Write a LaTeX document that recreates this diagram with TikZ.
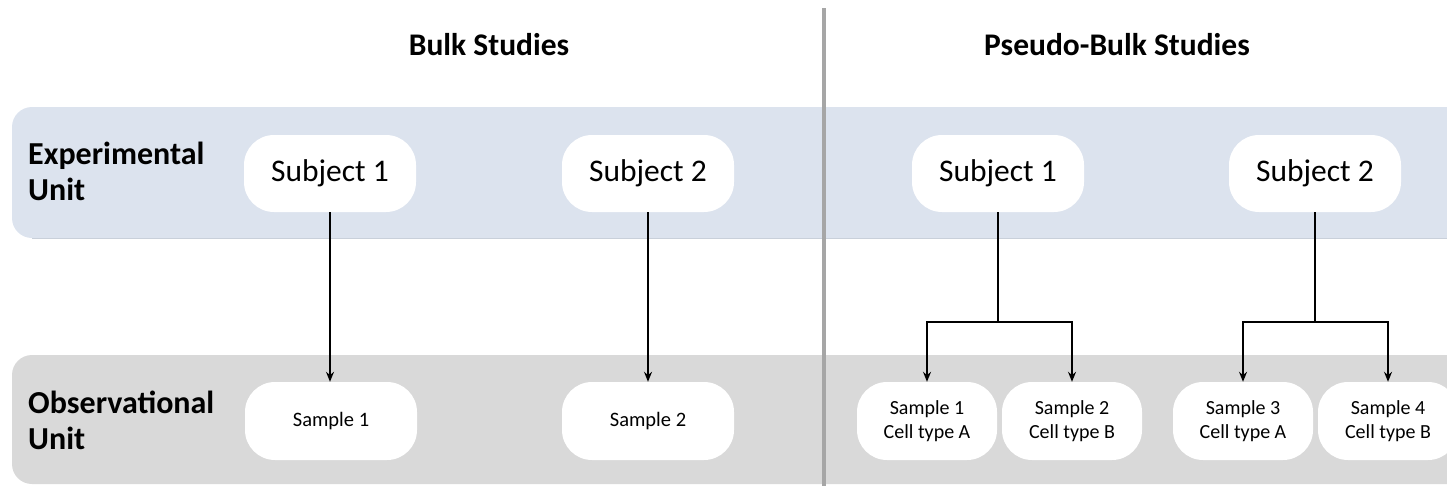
\documentclass[tikz,border=0pt]{standalone}
\usepackage{fontspec}
\setmainfont{Carlito}
\usetikzlibrary{arrows.meta}
\definecolor{bandblue}{HTML}{DCE3EE}
\definecolor{bandedge}{HTML}{C9D0DA}
\definecolor{bandgrey}{HTML}{D9D9D9}
\definecolor{divgrey}{HTML}{A6A6A6}
\tikzset{
  subj/.style={fill=white, rounded corners=30pt, minimum width=172pt, minimum height=77pt, inner sep=0pt, font=\fontsize{31.5}{36}\selectfont},
  bsamp/.style={fill=white, rounded corners=30pt, minimum width=172pt, minimum height=78pt, inner sep=0pt, font=\fontsize{20.5}{24}\selectfont},
  psamp/.style={fill=white, rounded corners=30pt, minimum width=140pt, minimum height=78pt, inner sep=0pt, align=center, font=\fontsize{20}{24.5}\selectfont},
  rowlabel/.style={anchor=north west, inner sep=0pt, align=left, font=\bfseries\fontsize{32}{36}\selectfont},
  header/.style={inner sep=0pt, anchor=base, font=\bfseries\fontsize{31.5}{36}\selectfont},
  conn/.style={line width=1.4pt, black},
  arr/.style={conn, -{Stealth[length=10pt,width=8pt]}}
}
\begin{document}
\begin{tikzpicture}[x=1pt,y=-1pt]
\useasboundingbox (0,0) rectangle (1447,485);
% bands
\fill[bandblue, rounded corners=20pt] (12,107) rectangle (1490,238);
\draw[bandedge, line width=0.8pt] (32,238) -- (1447,238);
\fill[bandgrey, rounded corners=20pt] (12,355) rectangle (1490,484);
% divider
\draw[divgrey, line width=4pt] (824,8) -- (824,490);
% headers
\node[header] (hb) at (489,55) {Bulk Studies};
\node[header] (hp) at (1117,55) {Pseudo-Bulk Studies};
% row labels
\node[rowlabel] (le) at (28,142) {Experimental\\Unit};
\node[rowlabel] (lo) at (28,391) {Observational\\Unit};
% subjects
\node[subj] (s1) at (330,173.5) {Subject 1};
\node[subj] (s2) at (648,173.5) {Subject 2};
\node[subj] (p1) at (998,173.5) {Subject 1};
\node[subj] (p2) at (1315,173.5) {Subject 2};
% samples
\node[bsamp] (b1) at (331,421) {Sample 1};
\node[bsamp] (b2) at (648,421) {Sample 2};
\node[psamp] (q1) at (927,421) {Sample 1\\Cell type A};
\node[psamp] (q2) at (1072,421) {Sample 2\\Cell type B};
\node[psamp] (q3) at (1243,421) {Sample 3\\Cell type A};
\node[psamp] (q4) at (1388,421) {Sample 4\\Cell type B};
% connectors
\draw[arr] (s1.south) -- (b1.north -| s1.south);
\draw[arr] (s2.south) -- (b2.north);
\coordinate (j1) at (998,322);
\coordinate (j2) at (1315,322);
\draw[conn] (p1.south) -- (j1);
\draw[conn] (p2.south) -- (j2);
\draw[arr] (j1) -| (q1.north);
\draw[arr] (j1) -| (q2.north);
\draw[arr] (j2) -| (q3.north);
\draw[arr] (j2) -| (q4.north);
\end{tikzpicture}
\end{document}
